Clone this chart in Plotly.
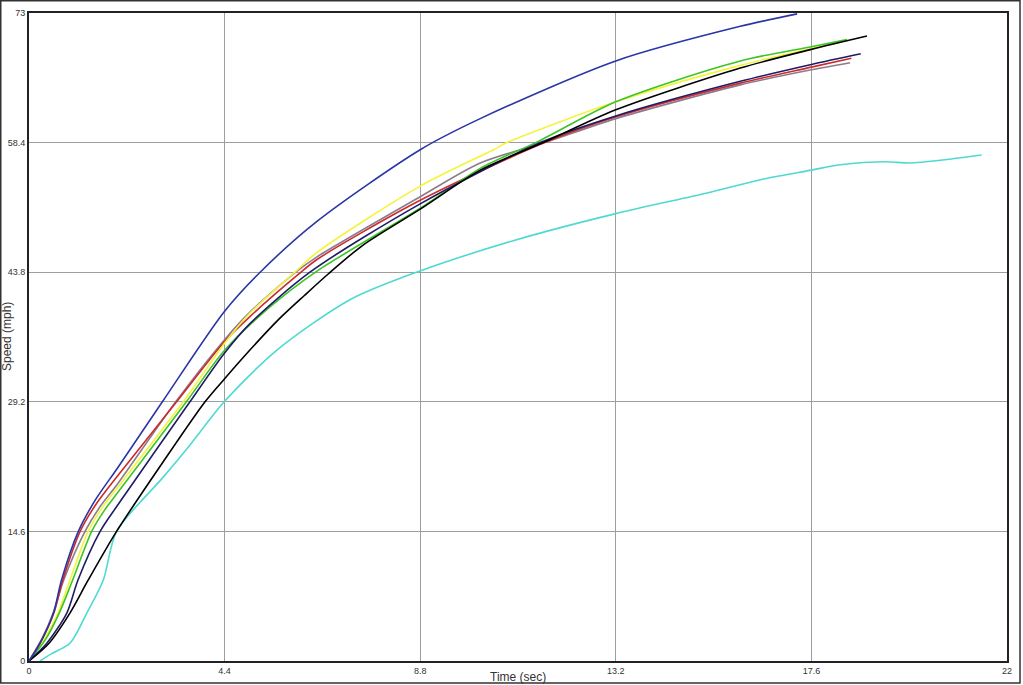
import plotly.graph_objects as go

# ---- data (time in sec, speed in mph) ----
blue_t = [0, 0.25, 0.55, 0.73, 1.11, 1.5, 2.0, 3.0, 4.4, 5.2, 6.47, 8.8, 10.15, 13.2, 16.0, 17.28]
blue_v = [0, 2.0, 5.4, 9.1, 14.6, 18.2, 21.8, 29.2, 39.4, 43.8, 49.5, 57.6, 61.1, 67.6, 71.5, 72.9]

red_t = [0, 0.3, 0.56, 0.76, 1.15, 1.5, 2.0, 3.32, 4.4, 4.97, 6.07, 6.47, 8.8, 11.6, 13.2, 16.0, 17.6, 18.5]
red_v = [0, 2.5, 5.4, 9.1, 14.6, 17.6, 20.9, 29.2, 36.0, 38.8, 43.6, 45.2, 51.9, 58.4, 61.3, 65.1, 66.9, 67.9]

gray_t = [0, 0.3, 0.55, 0.78, 1.26, 1.6, 2.0, 3.3, 4.4, 4.97, 6.0, 6.47, 8.8, 10.15, 11.6, 13.2, 16.0, 17.6, 18.47]
gray_v = [0, 2.6, 5.5, 9.1, 14.6, 17.4, 20.0, 29.2, 36.2, 39.3, 43.8, 45.5, 52.3, 56.1, 58.4, 61.1, 64.9, 66.6, 67.4]

yellow_t = [0, 0.35, 0.65, 0.92, 1.33, 1.65, 2.0, 3.47, 4.4, 4.97, 5.98, 6.47, 8.8, 10.45, 10.75, 13.2, 16.0, 17.6, 18.25]
yellow_v = [0, 2.5, 5.4, 9.1, 14.6, 17.3, 19.6, 29.2, 35.8, 39.2, 43.8, 46.0, 53.5, 57.6, 58.4, 63.0, 67.1, 69.0, 69.7]

green_t = [0, 0.38, 0.68, 0.98, 1.41, 1.7, 2.0, 3.54, 4.4, 5.4, 6.47, 8.8, 10.15, 11.4, 13.2, 16.0, 17.6, 18.4]
green_v = [0, 2.5, 5.4, 9.1, 14.6, 17.0, 19.0, 29.2, 35.0, 39.8, 43.9, 51.0, 55.5, 58.4, 63.0, 67.6, 69.2, 70.0]

navy_t = [0, 0.4, 0.85, 1.1, 1.6, 2.0, 3.62, 4.4, 4.97, 6.32, 8.8, 11.5, 13.2, 16.0, 17.6, 18.71]
navy_v = [0, 2.0, 5.4, 9.1, 14.6, 17.6, 29.2, 34.7, 38.0, 43.8, 51.5, 58.4, 61.4, 65.3, 67.2, 68.4]

black_t = [0, 0.45, 0.92, 1.33, 1.97, 3.0, 3.96, 4.4, 5.0, 5.6, 6.2, 6.73, 7.5, 8.8, 10.15, 11.57, 13.2, 16.0, 17.6, 18.85]
black_v = [0, 2.0, 5.4, 9.1, 14.6, 22.3, 29.2, 31.8, 35.2, 38.4, 41.2, 43.6, 46.8, 50.9, 55.3, 58.4, 62.1, 66.8, 68.9, 70.4]

cyan_t = [0.25, 0.5, 0.92, 1.3, 1.67, 1.97, 3.0, 3.6, 4.39, 5.57, 7.22, 8.72, 10.93, 13.2, 15.23, 16.53, 17.6, 18.25, 19.28, 19.8, 20.65, 21.43]
cyan_v = [0, 0.8, 2.0, 5.4, 9.1, 14.6, 20.6, 24.2, 29.2, 35.0, 40.7, 43.8, 47.4, 50.4, 52.7, 54.3, 55.3, 55.9, 56.25, 56.1, 56.5, 57.0]

x_ticks = [0, 4.4, 8.8, 13.2, 17.6, 22]
x_tick_text = ["0", "4.4", "8.8", "13.2", "17.6", "22"]
y_ticks = [0, 14.6, 29.2, 43.8, 58.4, 73]
y_tick_text = ["0", "14.6", "29.2", "43.8", "58.4", "73"]

series = [
    ("Cyan", cyan_t, cyan_v, "#4ED9D2"),
    ("Gray", gray_t, gray_v, "#8C7B8C"),
    ("Red", red_t, red_v, "#CC2B2B"),
    ("Yellow", yellow_t, yellow_v, "#F4F43C"),
    ("Green", green_t, green_v, "#3CC420"),
    ("Navy", navy_t, navy_v, "#1E1C66"),
    ("Black", black_t, black_v, "#000000"),
    ("Blue", blue_t, blue_v, "#2A35A6"),
]

fig = go.Figure()
for name, t, v, c in series:
    fig.add_trace(go.Scatter(
        x=t, y=v, mode="lines", name=name,
        line=dict(color=c, width=1.6, shape="spline", smoothing=0.8),
        showlegend=False,
    ))

L, R, T, B = 29, 16, 13, 24
W, H = 1023, 685

fig.update_layout(
    width=W, height=H,
    margin=dict(l=L, r=R, t=T, b=B, autoexpand=False),
    paper_bgcolor="white",
    plot_bgcolor="white",
    font=dict(family="Arial, Liberation Sans, sans-serif", color="#333333"),
)

common = dict(
    tickmode="array",
    showgrid=True, gridcolor="#9E9E9E", gridwidth=1,
    showline=True, linecolor="#222222", linewidth=2, mirror=True,
    zeroline=False, ticks="", tickfont=dict(size=9, color="#333333"),
    fixedrange=True, automargin=False,
)
fig.update_xaxes(range=[0, 22], tickvals=x_ticks, ticktext=x_tick_text, **common)
fig.update_yaxes(range=[0, 73], tickvals=y_ticks, ticktext=y_tick_text, **common)

pw, ph = W - L - R, H - T - B
# axis titles as annotations (positioned as in the reference)
fig.add_annotation(
    text="Time (sec)", xref="paper", yref="paper",
    x=0.5, y=-(677 - (H - B)) / ph,
    showarrow=False, font=dict(size=12, color="#333333"),
    xanchor="center", yanchor="middle",
)
fig.add_annotation(
    text="Speed (mph)", xref="paper", yref="paper",
    x=-(L - 7) / pw, y=0.5, textangle=-90,
    showarrow=False, font=dict(size=12, color="#333333"),
    xanchor="center", yanchor="middle",
)
# outer frame
fig.add_shape(
    type="rect", xref="paper", yref="paper",
    x0=-(L - 0.75) / pw, x1=(1020 - L) / pw,
    y0=-(683 - (H - B)) / ph, y1=((H - B) - 0.75) / ph,
    line=dict(color="#333333", width=1.5), fillcolor="rgba(0,0,0,0)",
    layer="below",
)

fig.write_html(
    "out.html",
    config={"displayModeBar": False, "staticPlot": True},
    post_script="document.body.style.margin='0';document.body.style.padding='0';",
)
